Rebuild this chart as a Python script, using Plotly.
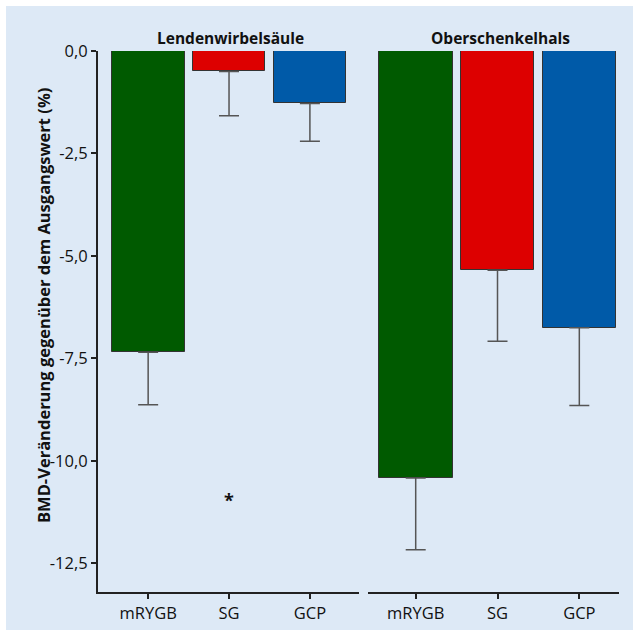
import plotly.graph_objects as go

groups = ["Lendenwirbelsäule", "Oberschenkelhals"]
categories = ["mRYGB", "SG", "GCP"]
colors = ["#005a00", "#dd0000", "#005aa8"]
lws_values = [-7.35, -0.5, -1.28]
lws_err = [1.28, 1.08, 0.92]
osh_values = [-10.42, -5.35, -6.75]
osh_err = [1.75, 1.73, 1.9]
y_ticks = [0, -2.5, -5, -7.5, -10, -12.5]
y_ticktext = ["0,0", "-2,5", "-5,0", "-7,5", "-10,0", "-12,5"]
star_cat = 1
star_y = -10.95

FONT = "Open Sans"
x_pos = [0, 1, 2]

L, R, T, B = 98, 20, 51, 44
PW = 639 - L - R
PH = 636 - T - B


def px(x):
    return (x - L) / PW


def py(y):
    return (636 - B - y) / PH


fig = go.Figure()
fig.add_trace(go.Bar(
    x=x_pos, y=lws_values, width=0.9, marker=dict(color=colors, line=dict(color="#333333", width=1)),
    error_y=dict(type="data", symmetric=False, array=[0, 0, 0], arrayminus=lws_err,
                 color="#555555", thickness=1.5, width=10),
    xaxis="x", yaxis="y", showlegend=False, hoverinfo="skip"))
fig.add_trace(go.Bar(
    x=x_pos, y=osh_values, width=0.9, marker=dict(color=colors, line=dict(color="#333333", width=1)),
    error_y=dict(type="data", symmetric=False, array=[0, 0, 0], arrayminus=osh_err,
                 color="#555555", thickness=1.5, width=10),
    xaxis="x2", yaxis="y2", showlegend=False, hoverinfo="skip"))

axis_common = dict(showline=True, linecolor="#222222", linewidth=2, ticks="outside",
                   ticklen=5, tickwidth=1.5, tickcolor="#222222", showgrid=False, zeroline=False,
                   tickfont=dict(family=FONT, size=16.5, color="#111111"))

fig.update_layout(
    width=639, height=636,
    margin=dict(l=L, r=R, t=T, b=B),
    paper_bgcolor="white", plot_bgcolor="rgba(0,0,0,0)",
    font=dict(family=FONT, color="#111111"),
    xaxis=dict(domain=[0, px(359)], range=[-0.62, 2.607], tickvals=x_pos, ticktext=categories,
               anchor="y", **axis_common),
    xaxis2=dict(domain=[px(368), 1], range=[-0.583, 2.485], tickvals=x_pos, ticktext=categories,
                anchor="y2", **axis_common),
    yaxis=dict(range=[-13.2, 0], tickvals=y_ticks, ticktext=y_ticktext, anchor="x", **axis_common),
    yaxis2=dict(range=[-13.2, 0], anchor="x2", showline=False, showticklabels=False,
                showgrid=False, zeroline=False, ticks=""),
    bargap=0,
)

# light-blue panel with white frame
fig.add_shape(type="rect", xref="paper", yref="paper",
              x0=px(6), x1=px(633), y0=py(630), y1=py(6),
              fillcolor="#dde9f6", line=dict(width=0), layer="below")

fig.add_annotation(x=px(230), y=py(38), xref="paper", yref="paper",
                   text="<b>" + groups[0] + "</b>", showarrow=False, xanchor="center", yanchor="middle",
                   font=dict(family=FONT, size=15.5, color="#111111"))
fig.add_annotation(x=px(500), y=py(38), xref="paper", yref="paper",
                   text="<b>" + groups[1] + "</b>", showarrow=False, xanchor="center", yanchor="middle",
                   font=dict(family=FONT, size=15.5, color="#111111"))
fig.add_annotation(x=px(43), y=py(306), xref="paper", yref="paper",
                   text="<b>BMD-Veränderung gegenüber dem Ausgangswert (%)</b>", textangle=-90,
                   xanchor="center", yanchor="middle",
                   showarrow=False, font=dict(family=FONT, size=16.5, color="#111111"))
fig.add_annotation(x=star_cat, y=star_y, xref="x", yref="y", text="<b>*</b>", showarrow=False,
                   xanchor="center", yanchor="middle",
                   font=dict(family=FONT, size=18, color="#111111"))

fig.write_html("out.html", config={"displayModeBar": False},
               post_script="document.body.style.margin='0px';")
